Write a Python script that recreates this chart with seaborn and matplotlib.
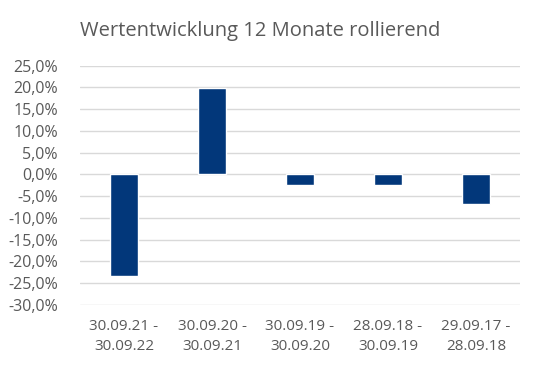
import pandas as pd
import matplotlib
matplotlib.use('Agg')
import matplotlib.pyplot as plt
import seaborn as sns
from matplotlib.ticker import FuncFormatter, MultipleLocator

sns.set_style('white')
plt.rcParams['font.family'] = ['Open Sans', 'DejaVu Sans']

# data
periods = ['30.09.21 -\n30.09.22', '30.09.20 -\n30.09.21', '30.09.19 -\n30.09.20',
           '28.09.18 -\n30.09.19', '29.09.17 -\n28.09.18']
values = [-23.4, 19.8, -2.4, -2.4, -6.8]
title = 'Wertentwicklung 12 Monate rollierend'

df = pd.DataFrame({'period': periods, 'value': values})

fig = plt.figure(figsize=(5.4, 3.73), dpi=100)
ax = fig.add_axes([80/540, 1-305/373, 440/540, (305-65.5)/373])
sns.barplot(x='period', y='value', data=df, color='#02377a', width=0.31,
            saturation=1, ax=ax, zorder=3)
ax.set_ylim(-30, 25)
ax.yaxis.set_major_locator(MultipleLocator(5))
ax.yaxis.set_major_formatter(FuncFormatter(lambda v, p: f'{v:.1f}%'.replace('.', ',').replace('\u2212', '-')))
ax.grid(axis='y', color='#d9d9d9', linewidth=1, zorder=0)
for s in ax.spines.values():
    s.set_visible(False)
ax.set_xlabel('')
ax.set_ylabel('')
ax.tick_params(axis='both', length=0, colors='#595959')
ax.tick_params(axis='x', pad=10, labelsize=11)
ax.tick_params(axis='y', pad=16, labelsize=11.5)
for t in ax.get_xticklabels():
    t.set_linespacing(1.45)
fig.text(260/540, 1-31/373, title, ha='center', va='center', fontsize=14.5, color='#595959')
fig.savefig('out.png', dpi=100)
